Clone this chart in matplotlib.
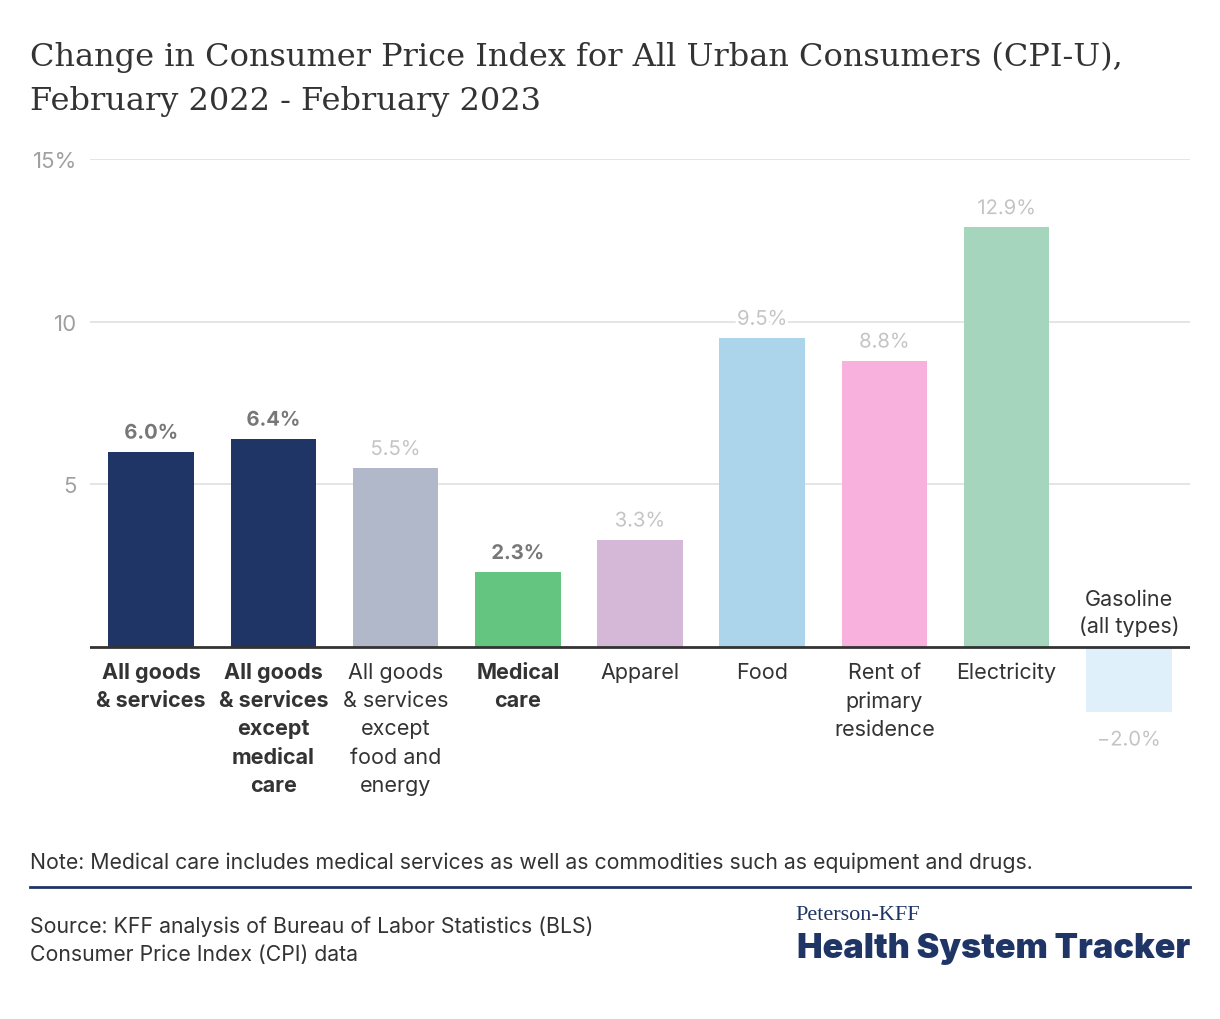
import matplotlib
matplotlib.use("Agg")
import matplotlib.pyplot as plt
import matplotlib.patheffects as pe

# data
categories = [
    "All goods\n& services",
    "All goods\n& services\nexcept\nmedical\ncare",
    "All goods\n& services\nexcept\nfood and\nenergy",
    "Medical\ncare",
    "Apparel",
    "Food",
    "Rent of\nprimary\nresidence",
    "Electricity",
    "Gasoline\n(all types)",
]
values = [6.0, 6.4, 5.5, 2.3, 3.3, 9.5, 8.8, 12.9, -2.0]
highlight = [True, True, False, True, False, False, False, False, False]
colors = ["#1f3566", "#1f3566", "#b1b8ca", "#63c57f", "#d5b8d8",
          "#acd5ec", "#f7b1dc", "#a6d5bd", "#dff0fb"]
yticks = [5, 10, 15]
ytick_labels = ["5", "10", "15%"]

TEXT = "#333333"
NAVY = "#1f3566"
SANS = ["Inter", "DejaVu Sans"]
SERIF = ["DejaVu Serif"]

plt.rcParams["font.family"] = SANS

W, H = 1220, 1020
fig = plt.figure(figsize=(W / 100, H / 100), dpi=100)
ax = fig.add_axes([90 / W, 1 - 732.6 / H, 1100 / W, (732.6 - 160) / H])

x = list(range(len(values)))
ax.bar(x, values, width=0.70, color=colors, zorder=2)
ax.set_xlim(-0.5, len(values) - 0.5)
ax.set_ylim(-2.6, 15)

ax.set_yticks(yticks)
ax.set_yticklabels(ytick_labels)
ax.tick_params(axis="y", length=0, pad=9.4, labelsize=16, labelcolor="#a0a0a0")
ax.set_xticks([])
ax.grid(axis="y", color="#e3e3e3", linewidth=1.3, zorder=0)
for s in ax.spines.values():
    s.set_visible(False)
ax.axhline(0, color="#333333", linewidth=2, zorder=3)

halo = [pe.withStroke(linewidth=4, foreground="white")]
for i, (v, lab, hl) in enumerate(zip(values, categories, highlight)):
    txt = f"{v:.1f}%".replace("-", "\u2212")
    vcol = "#777777" if hl else "#c4c4c4"
    weight = "bold" if hl else "normal"
    if v >= 0:
        ax.annotate(txt, (i, v), xytext=(0, 9.5), textcoords="offset points",
                    ha="center", va="baseline", fontsize=14.5, color=vcol,
                    fontweight=weight, path_effects=halo, zorder=4)
        ax.annotate(lab, (i, 0), xytext=(0, -10.5), textcoords="offset points",
                    ha="center", va="top", fontsize=15.5, color=TEXT,
                    fontweight=weight, linespacing=1.52)
    else:
        ax.annotate(txt, (i, v), xytext=(0, -14), textcoords="offset points",
                    ha="center", va="top", fontsize=14.5, color=vcol,
                    fontweight=weight, path_effects=halo, zorder=4)
        ax.annotate(lab, (i, 0), xytext=(0, 8), textcoords="offset points",
                    ha="center", va="bottom", fontsize=15.5, color=TEXT,
                    fontweight=weight, linespacing=1.4)

# title
fig.text(30 / W, 1 - 42 / H,
         "Change in Consumer Price Index for All Urban Consumers (CPI-U),\n"
         "February 2022 - February 2023",
         ha="left", va="top", fontsize=23, color=TEXT, family=SERIF,
         linespacing=1.55)

# note, rule, source
fig.text(30 / W, 1 - 863 / H,
         "Note: Medical care includes medical services as well as commodities "
         "such as equipment and drugs.",
         ha="left", va="center", fontsize=15.3, color=TEXT)
fig.add_artist(plt.Line2D([30 / W, 1190 / W], [1 - 888 / H, 1 - 888 / H],
                          color=NAVY, linewidth=2))
fig.text(30 / W, 1 - 941 / H,
         "Source: KFF analysis of Bureau of Labor Statistics (BLS)\n"
         "Consumer Price Index (CPI) data",
         ha="left", va="center", fontsize=15.3, color=TEXT, linespacing=1.5)

# logo
fig.text(795 / W, 1 - 916 / H, "Peterson-KFF", ha="left", va="center",
         fontsize=16, color=NAVY, family=["Liberation Serif"])
fig.text(1190 / W, 1 - 949 / H, "Health System Tracker", ha="right",
         va="center", fontsize=24.6, color=NAVY, fontweight="black")

fig.savefig("out.png", dpi=100, facecolor="white")
